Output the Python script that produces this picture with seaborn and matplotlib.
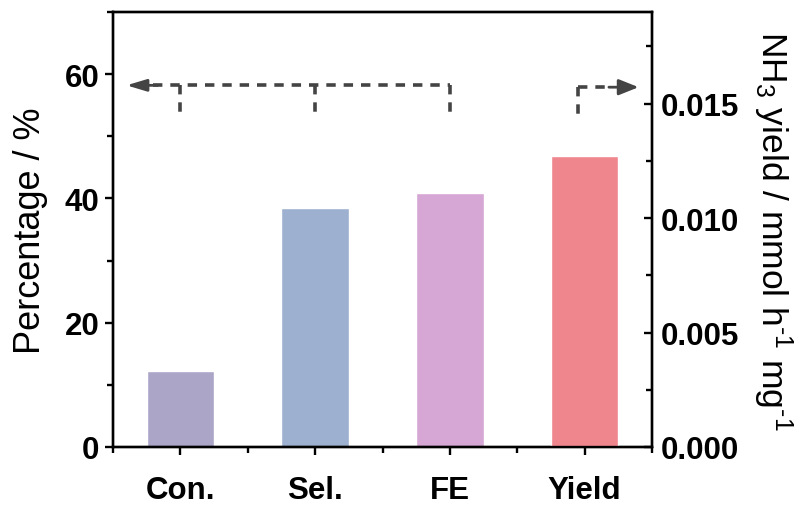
import matplotlib
matplotlib.use("Agg")
import matplotlib.pyplot as plt
from matplotlib.ticker import MultipleLocator, FormatStrFormatter
import seaborn as sns
import pandas as pd

# Data
categories = ["Con.", "Sel.", "FE", "Yield"]
percent_cats = ["Con.", "Sel.", "FE"]
percent_vals = [12.3, 38.4, 40.8]          # %
yield_cats = ["Yield"]
yield_vals = [0.0127]                       # mmol h^-1 mg^-1
bar_colors = ["#ABA5C8", "#9DB0CF", "#D6A7D4", "#EF868E"]

sns.set_theme(style="ticks")
plt.rcParams["font.family"] = ["Liberation Sans", "DejaVu Sans"]
plt.rcParams["mathtext.fontset"] = "custom"
plt.rcParams["mathtext.rm"] = "Liberation Sans"
plt.rcParams["mathtext.it"] = "Liberation Sans"
for key in ("text.color", "axes.labelcolor", "xtick.color", "ytick.color",
            "axes.edgecolor"):
    plt.rcParams[key] = "black"

fig = plt.figure(figsize=(8.09, 5.10), dpi=100)
ax = fig.add_axes([0.1397, 0.1216, 0.6663, 0.8529])
ax2 = ax.twinx()

pal = dict(zip(categories, bar_colors))
df_pct = pd.DataFrame({"cat": percent_cats, "val": percent_vals})
df_yld = pd.DataFrame({"cat": yield_cats, "val": yield_vals})

sns.barplot(data=df_pct, x="cat", y="val", hue="cat", order=categories,
            hue_order=categories, palette=pal, width=0.5, legend=False,
            saturation=1, ax=ax, zorder=2)
sns.barplot(data=df_yld, x="cat", y="val", hue="cat", order=categories,
            hue_order=categories, palette=pal, width=0.5, legend=False,
            saturation=1, ax=ax2, zorder=2)

for a in (ax, ax2):
    a.set_xlim(-0.5, 3.5)
    a.set_xlabel("")
ax.set_ylim(0, 70)
ax2.set_ylim(0, 0.019)

ax.yaxis.set_major_locator(MultipleLocator(20))
ax.yaxis.set_minor_locator(MultipleLocator(10))
ax2.yaxis.set_major_locator(MultipleLocator(0.005))
ax2.yaxis.set_minor_locator(MultipleLocator(0.0025))
ax.xaxis.set_minor_locator(MultipleLocator(0.5))
ax2.yaxis.set_major_formatter(FormatStrFormatter("%.3f"))

ax.set_xticks(range(len(categories)))
ax.set_xticklabels(categories, fontsize=24, fontweight="bold")

ax.set_ylabel("Percentage / %", fontsize=26, labelpad=12)
ax2.set_ylabel(r"NH$_3$ yield / mmol h$^{\text{-}1}$ mg$^{\text{-}1}$",
               fontsize=25.5, labelpad=9, rotation=270, va="bottom")

for a in (ax, ax2):
    for s in a.spines.values():
        s.set_linewidth(1.7)
        s.set_color("black")
ax.tick_params(which="major", direction="out", length=6, width=1.7,
               labelsize=22.5, pad=4)
ax.tick_params(which="minor", direction="out", length=4, width=1.7)
ax.tick_params(axis="x", which="major", pad=14)
ax2.tick_params(which="major", direction="in", length=6, width=1.7,
                labelsize=22.5, pad=6)
ax2.tick_params(which="minor", direction="in", length=4, width=1.7)
for lab in ax.get_yticklabels() + ax2.get_yticklabels():
    lab.set_fontweight("bold")

# Dashed guide arrows pointing to the relevant axis
gc = "#444444"
dash = (0, (2.6, 2.2))
y_arrow = 58.2
y_drop = 53.3
ax.plot([-0.2, 2.0], [y_arrow, y_arrow], color=gc, lw=2.6, ls=dash,
        zorder=5, dash_capstyle="butt")
for xc in (0.0, 1.0, 2.0):
    ax.plot([xc, xc], [y_arrow, y_drop], color=gc, lw=2.6, ls=dash,
            zorder=5, dash_capstyle="butt")
ax.annotate("", xy=(-0.40, y_arrow), xytext=(-0.17, y_arrow),
            arrowprops=dict(arrowstyle="-|>,head_length=1.0,head_width=0.3",
                            color=gc, lw=2.0, shrinkA=0, shrinkB=0),
            zorder=6)
y_arrow_r = 57.9
ax.plot([2.95, 2.95], [y_arrow_r, y_drop], color=gc, lw=2.6, ls=dash,
        zorder=5, dash_capstyle="butt")
ax.plot([2.95, 3.2], [y_arrow_r, y_arrow_r], color=gc, lw=2.6, ls=dash,
        zorder=5, dash_capstyle="butt")
ax.annotate("", xy=(3.40, y_arrow_r), xytext=(3.18, y_arrow_r),
            arrowprops=dict(arrowstyle="-|>,head_length=1.0,head_width=0.4",
                            color=gc, lw=2.0, shrinkA=0, shrinkB=0),
            zorder=6)

fig.savefig("out.png", dpi=100)
